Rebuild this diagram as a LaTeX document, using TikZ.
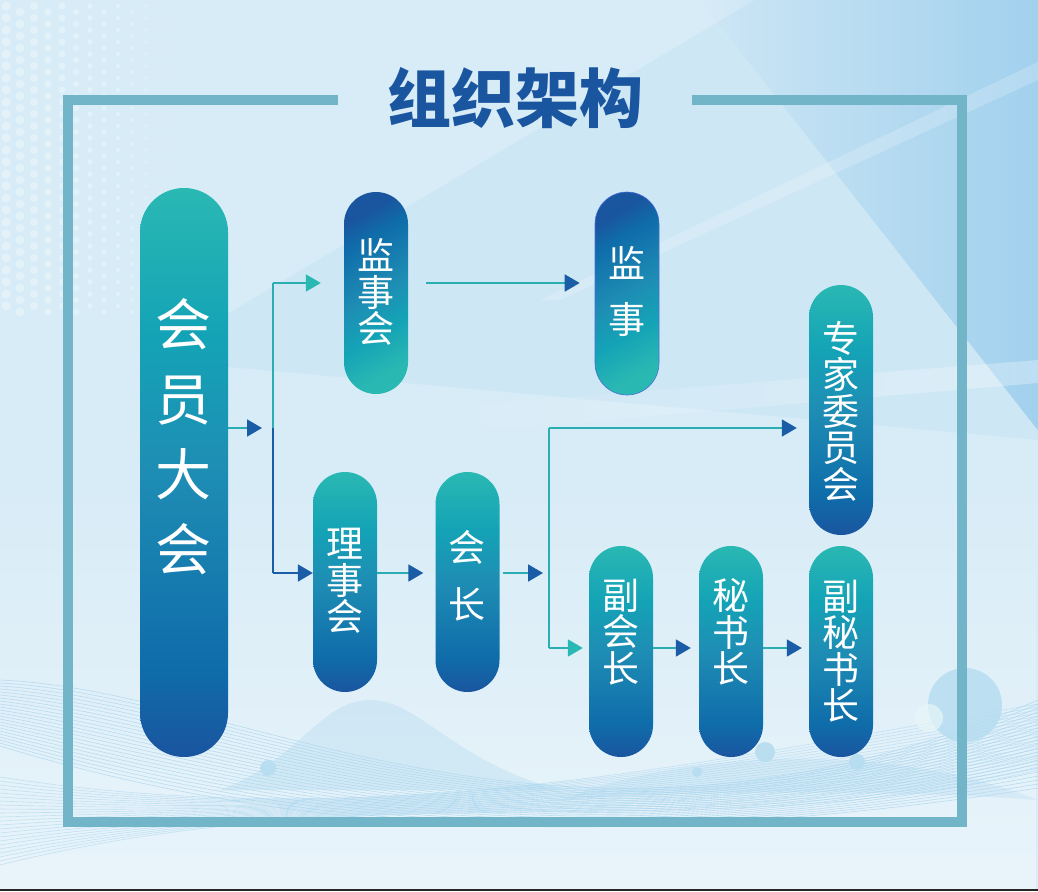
\documentclass[tikz,border=0pt]{standalone}
\usepackage{fontspec}
\newfontfamily\cjk{Noto Sans CJK SC}
\usetikzlibrary{arrows.meta,fadings}
\definecolor{teal1}{HTML}{2AB8B3}
\definecolor{tealm}{HTML}{14A3B6}
\definecolor{midb}{HTML}{1E8DB4}
\definecolor{blueA}{HTML}{0F6DAA}
\definecolor{blue1}{HTML}{1A559F}
\definecolor{framec}{HTML}{72B4C8}
\definecolor{titleblue}{HTML}{1A55A0}
\definecolor{bgc}{HTML}{D8ECF7}
\definecolor{bgdark}{HTML}{A2D1EE}
\definecolor{bgmid}{HTML}{C3E2F4}
\definecolor{lineT}{HTML}{2AAEB2}
\definecolor{headB}{HTML}{1A5CA5}
\definecolor{wavec}{HTML}{A8D5EE}
\definecolor{circc}{HTML}{B6DDF0}
\definecolor{jsborder}{HTML}{4A6FD8}
\pgfdeclareverticalshading{pillsh}{100bp}{color(0bp)=(blue1); color(25bp)=(blue1); color(33bp)=(blueA); color(50bp)=(midb); color(62bp)=(tealm); color(75bp)=(teal1); color(100bp)=(teal1)}
\begin{document}
\begin{tikzpicture}[x=1pt,y=-1pt,
  pill/.style={rectangle, inner sep=0pt, minimum width=64pt, rounded corners=32pt, shade, shading=pillsh},
  txt/.style={text=white, align=center, inner sep=0pt, font=\cjk\fontsize{37}{36.5}\selectfont},
  conn/.style={draw=lineT, line width=1.8pt, -{Triangle[length=15pt,width=17pt,color=headB]}},
  connT/.style={draw=lineT, line width=1.8pt, -{Triangle[length=15pt,width=17pt,color=teal1]}},
  bus/.style={draw=lineT, line width=1.8pt}
]
\useasboundingbox (0,0) rectangle (1038,891);
% ---------- background ----------
\fill[bgc] (0,0) rectangle (1038,891);
\fill[bgmid, opacity=0.45] (755,0) -- (1038,0) -- (1038,440) -- (150,360) -- cycle;
\fill[bgdark, path fading=west] (700,0) -- (1038,0) -- (1038,430) -- cycle;
\fill[white, opacity=0.3, path fading=west] (430,408) -- (1038,360) -- (1038,383) -- (430,435) -- cycle;
\fill[white, opacity=0.2] (1038,62) -- (1038,80) -- (560,300) -- (540,300) -- cycle;
\fill[white, opacity=0.45, path fading=north] (0,480) rectangle (1038,891);
% halftone dots
\foreach \i in {0,...,14}{
  \foreach \j in {0,...,25}{
    \pgfmathsetmacro{\xx}{6+\i*14}
    \pgfmathsetmacro{\yy}{6+\j*12+mod(\i,2)*6}
    \pgfmathsetmacro{\rr}{max(0.4,4.8*(1-\xx/215))}
    \fill[white, opacity=0.3] (\xx,\yy) circle[radius=\rr];
  }
}
% soft hills
\fill[wavec, opacity=0.3] (220,790) .. controls (300,760) and (320,700) .. (370,700) .. controls (420,700) and (450,760) .. (560,790) -- cycle;
\fill[wavec, opacity=0.25] (560,800) .. controls (700,745) and (900,745) .. (1038,800) .. controls (900,790) and (700,790) .. (560,800) -- cycle;
% wave lines
\foreach \k in {0,...,22}{
  \draw[wavec, line width=0.6pt, opacity=0.75] (0,{680+3*\k}) .. controls (250,{690+6*\k}) and (560,{905-2*\k}) .. (1038,{700+4*\k});
  \draw[wavec, line width=0.6pt, opacity=0.6] (0,{865-4*\k}) .. controls (380,{770+3*\k}) and (700,{850-4*\k}) .. (1038,{770-3*\k});
}
% circles
\fill[circc, opacity=0.85] (965,705) circle[radius=37];
\fill[circc!70!teal1!20, opacity=0.7] (929,718) circle[radius=14];
\fill[circc, opacity=0.9] (268,768) circle[radius=8];
\fill[circc, opacity=0.9] (697,772) circle[radius=5];
\fill[circc, opacity=0.9] (765,752) circle[radius=10];
\fill[circc, opacity=0.9] (857,762) circle[radius=8];
% bottom dark edge
\draw[black!85, line width=2pt] (0,890) -- (1038,890);
% ---------- frame and title ----------
\draw[framec, line width=10pt, line join=miter] (338,100) -- (68,100) -- (68,822) -- (962,822) -- (962,100) -- (692,100);
\node[font=\cjk\bfseries\fontsize{64}{64}\selectfont, text=titleblue, inner sep=0pt] (title) at (515,98) {组织架构};
% ---------- pills ----------
\node[pill, minimum width=88pt, minimum height=569pt, rounded corners=44pt] (hy) at (184,472.5) {};
\node[pill, minimum height=202pt, shading angle=210] (jsh) at (376,293) {};
\node[pill, minimum height=203pt, shading angle=210, draw=jsborder, line width=0.6pt] (js) at (627,293.5) {};
\node[pill, minimum height=250pt] (zj) at (841,410) {};
\node[pill, minimum height=220pt] (lsh) at (345,582) {};
\node[pill, minimum height=220pt] (hz) at (467.5,582) {};
\node[pill, minimum height=211pt] (fhz) at (621,651.5) {};
\node[pill, minimum height=211pt] (msz) at (731,651.5) {};
\node[pill, minimum height=211pt] (fmsz) at (841,651.5) {};
% ---------- texts ----------
\node[txt, font=\cjk\fontsize{56}{75}\selectfont] (thy) at (183,437) {会\\员\\大\\会};
\node[txt] (tjsh) at (376,292) {监\\事\\会};
\node[txt, font=\cjk\fontsize{37}{56}\selectfont] (tjs) at (627,292) {监\\事};
\node[txt] (tzj) at (841,411) {专\\家\\委\\员\\会};
\node[txt] (tlsh) at (345,581) {理\\事\\会};
\node[txt, font=\cjk\fontsize{37}{57}\selectfont] (thz) at (467,576) {会\\长};
\node[txt] (tfhz) at (621,632) {副\\会\\长};
\node[txt] (tmsz) at (731,632) {秘\\书\\长};
\node[txt] (tfmsz) at (841,651) {副\\秘\\书\\长};
% ---------- connectors ----------
\coordinate (j1) at (262,428);
\coordinate (b1t) at (273,283);
\coordinate (b1m) at (273,428);
\coordinate (b1b) at (273,573);
\coordinate (j2) at (543,573);
\coordinate (b2t) at (549,428);
\coordinate (b2b) at (549,648);
\draw[conn] (hy.east |- j1) -- (j1);
\draw[bus] (b1t) -- (b1m);
\draw[bus, draw=headB] (b1m) -- (b1b);
\draw[connT, shorten >=23pt] (b1t) -- (b1t -| jsh.west);
\draw[conn, draw=headB] (b1b) -- (b1b -| lsh.west);
\draw[conn, shorten <=18pt, shorten >=15pt] (jsh.east |- b1t) -- (js.west |- b1t);
\draw[conn, shorten >=12pt] (lsh.east |- b1b) -- (hz.west |- b1b);
\draw[conn, shorten <=3pt] (hz.east |- b1b) -- (j2);
\draw[bus] (b2t) -- (b2b);
\draw[conn, shorten >=12pt] (b2t) -- (b2t -| zj.west);
\draw[connT, shorten >=6pt] (b2b) -- (b2b -| fhz.west);
\draw[conn, shorten >=8pt] (fhz.east |- b2b) -- (msz.west |- b2b);
\draw[conn, shorten >=7pt] (msz.east |- b2b) -- (fmsz.west |- b2b);
\end{tikzpicture}
\end{document}
